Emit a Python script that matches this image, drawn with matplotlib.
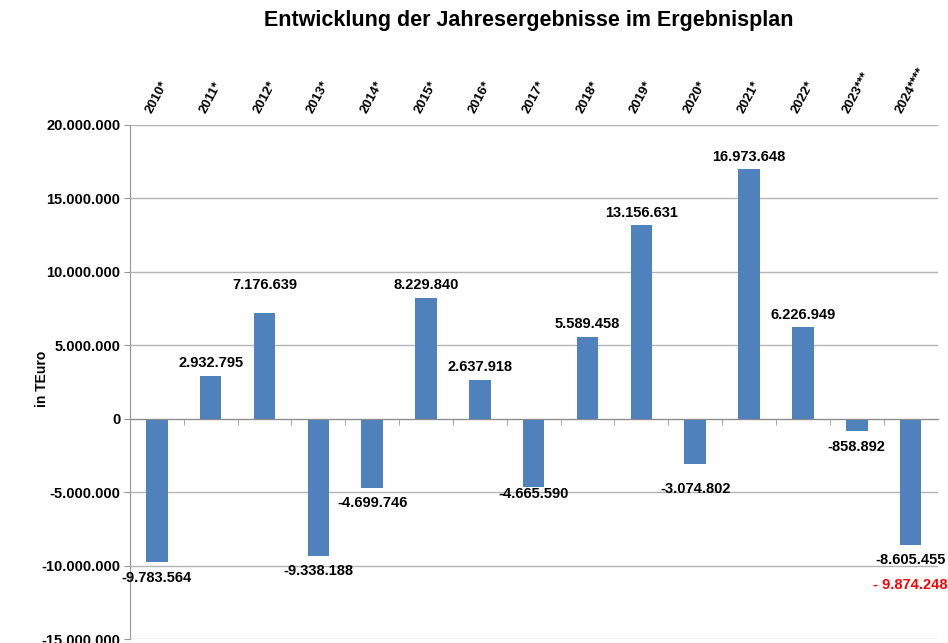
import numpy as np
import matplotlib as mpl
import matplotlib.pyplot as plt
from matplotlib.ticker import FuncFormatter, FixedLocator

mpl.rcParams["font.family"] = ["Liberation Sans", "DejaVu Sans"]
mpl.rcParams["font.weight"] = "bold"

# ===== Data =====
years = ["2010*", "2011*", "2012*", "2013*", "2014*", "2015*", "2016*", "2017*",
         "2018*", "2019*", "2020*", "2021*", "2022*", "2023***", "2024****"]
results = [-9783564, 2932795, 7176639, -9338188, -4699746, 8229840, 2637918,
           -4665590, 5589458, 13156631, -3074802, 16973648, 6226949, -858892,
           -8605455]
revised_2024 = -9874248  # red figure under the 2024 bar

# manual label nudges (points), like in the original sheet
label_nudge = {"2012*": 11, "2017*": 6, "2020*": -7}

bar_color = "#4f81bd"
grid_color = "#b4b4b4"


def fmt(v):
    return f"{int(v):,}".replace(",", ".")


# ===== Figure =====
fig = plt.figure(figsize=(9.48, 6.43), dpi=100)
ax = fig.add_axes([0.137, 0.006, 0.852, 0.800])

x = np.arange(len(years))
bars = ax.bar(x, results, width=0.4, color=bar_color, zorder=3)

ax.set_xlim(-0.5, len(years) - 0.5)
ax.set_ylim(-15e6, 20e6)
ax.set_yticks(np.arange(-15e6, 20e6 + 1, 5e6))
ax.yaxis.set_major_formatter(FuncFormatter(lambda v, p: fmt(v)))
ax.grid(axis="y", color=grid_color, lw=1.0, zorder=0)

# spines: left axis + zero line with category boundary ticks
for s in ["top", "right"]:
    ax.spines[s].set_visible(False)
ax.spines["left"].set_color("#999999")
ax.spines["bottom"].set_position(("data", 0))
ax.spines["bottom"].set_color("#8c8c8c")
ax.spines["bottom"].set_zorder(4)

ax.set_xticks(x)
ax.set_xticklabels(years)
ax.xaxis.set_minor_locator(FixedLocator(x[:-1] + 0.5))
ax.tick_params(axis="x", which="major", length=0, top=False, bottom=False,
               labeltop=True, labelbottom=False, labelsize=9.5, pad=7,
               labelrotation=62)
ax.tick_params(axis="x", which="minor", length=4, color="#999999",
               direction="out", bottom=True)
for lab in ax.get_xticklabels():
    lab.set_ha("center")
    lab.set_va("bottom")
ax.tick_params(axis="y", length=4, color="#999999", labelsize=10.5, pad=3)

# ===== Value labels =====
for xi, yr, v in zip(x, years, results):
    dy = label_nudge.get(yr, 0)
    if v >= 0:
        ax.annotate(fmt(v), (xi, v), xytext=(0, 4 + dy), textcoords="offset points",
                    ha="center", va="bottom", fontsize=10.5, fontweight="bold")
    else:
        ax.annotate(fmt(v), (xi, v), xytext=(0, -6 + dy), textcoords="offset points",
                    ha="center", va="top", fontsize=10.5, fontweight="bold")

ax.annotate("- " + fmt(-revised_2024), (x[-1], results[-1]), xytext=(0, -24),
            textcoords="offset points", ha="center", va="top", fontsize=10.5,
            fontweight="bold", color="#ff0000", annotation_clip=False)

# ===== Titles =====
fig.text(0.558, 0.968, "Entwicklung der Jahresergebnisse im Ergebnisplan",
         ha="center", va="center", fontsize=15.5, fontweight="bold")
fig.text(0.044, 0.41, "in TEuro", rotation=90, ha="center", va="center",
         fontsize=10, fontweight="bold")

plt.savefig("out.png", dpi=100)
